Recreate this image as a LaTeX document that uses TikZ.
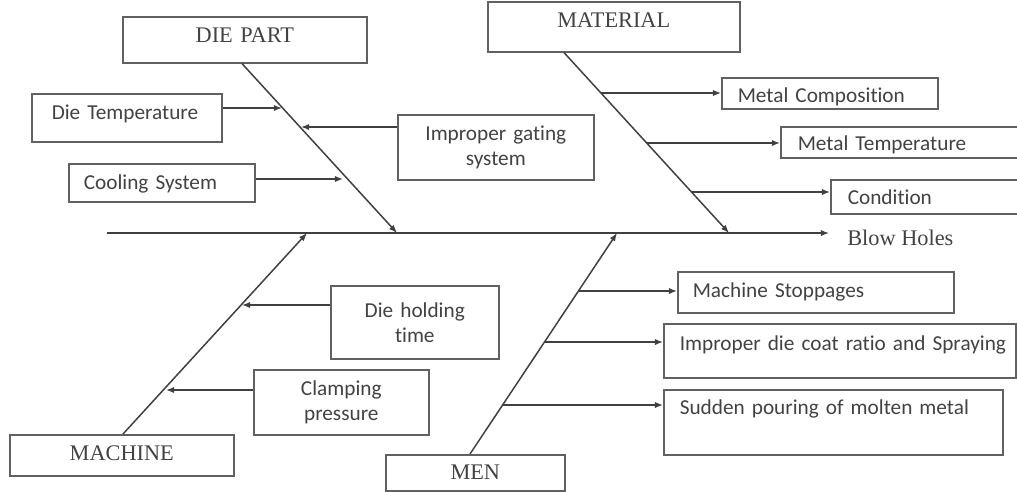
\documentclass[tikz,border=0pt]{standalone}
\usepackage{fontspec}
\setmainfont{Liberation Serif}
\newfontfamily\itemfont[Ligatures={NoCommon,NoRare,NoContextual}]{Carlito}
\usetikzlibrary{arrows.meta,calc}
\newdimen\pxu
\pxu=0.02cm
\definecolor{linec}{gray}{0.25}
\definecolor{boxc}{gray}{0.38}
\definecolor{txtc}{gray}{0.26}
\newcommand\titlefs{\fontsize{12.7pt}{14.2pt}\selectfont}
\newcommand\itemfs{\itemfont\fontsize{12.1pt}{14.2pt}\selectfont}
\newcommand\ind[1]{\hspace*{#1\pxu}}
\tikzset{
  bx/.style={draw=boxc, line width=0.9pt, anchor=north west, inner sep=0pt, text=txtc},
  one/.style n args={4}{text width=#1\pxu, text height=#2\pxu, text depth=#3\pxu, align=#4},
  two/.style 2 args={text width=#1\pxu, minimum height=#2\pxu, align=center},
  ttl/.style={font=\titlefs},
  itm/.style={font=\itemfs},
  ln/.style={draw=linec, line width=0.85pt},
  arr/.style={ln, -{Latex[length=4.6pt,width=3.6pt]}},
}
\begin{document}
\begin{tikzpicture}[x=0.02cm,y=-0.02cm]
\useasboundingbox (0,0) rectangle (1017,491);
\clip (0,0) rectangle (1017,491);
% category boxes
\node[bx,ttl,one={244}{26}{20}{center}] (diepart) at (122,16) {DIE PART};
\node[bx,ttl,one={252}{26}{24}{center}] (material) at (487,1) {MATERIAL};
\node[bx,ttl,one={224}{26}{15}{center}] (machine) at (9,434) {MACHINE};
\node[bx,ttl,one={179}{25}{11}{center}] (men) at (385,454) {MEN};
% cause boxes
\node[bx,itm,one={190}{26}{22}{left}] (dtemp) at (31,93) {\ind{20}Die Temperature};
\node[bx,itm,one={186}{26}{12}{left}] (cool) at (68,163) {\ind{15}Cooling System};
\node[bx,itm,two={196}{65}] (gating) at (397,114) {Improper gating\\system};
\node[bx,itm,one={216}{25}{6}{left}] (mcomp) at (721,77) {\ind{16}Metal Composition};
\node[bx,itm,one={250}{24}{7}{left}] (mtemp) at (780,126) {\ind{17}Metal Temperature};
\node[bx,itm,one={200}{25}{9}{left}] (cond) at (830,179) {\ind{17}Condition};
\node[bx,itm,two={168}{73}] (dhold) at (330,285) {Die holding\\time};
\node[bx,itm,two={175}{65}] (clamp) at (253,369) {Clamping\\pressure};
\node[bx,itm,one={276}{26}{15}{left}] (mstop) at (677,271) {\ind{15}Machine Stoppages};
\node[bx,itm,one={352}{27}{27}{left}] (coat) at (663,323) {\ind{16}Improper die coat ratio and Spraying};
\node[bx,itm,one={339}{25}{40}{left}] (sudden) at (663,389) {\ind{16}Sudden pouring of molten metal};
% effect
\node[anchor=base west, inner sep=0pt, ttl, text=txtc] (blow) at (847,245) {Blow Holes};
% spine and bones
\coordinate (tail) at (107,233);
\coordinate (jd) at (397,233);
\coordinate (jmat) at (729,233);
\coordinate (jmac) at (307,233);
\coordinate (jmen) at (617,233);
\draw[arr, shorten >=18\pxu] (tail) -- (tail -| blow.west);
\draw[arr] ($(diepart.south west)+(120,0)$) -- (jd);
\draw[arr] ($(material.south west)+(77,0)$) -- (jmat);
\draw[arr] ($(machine.north west)+(114,0)$) -- (jmac);
\draw[arr] ($(men.north west)+(85,0)$) -- (jmen);
% branch points
\coordinate (bd1) at (282,108);
\coordinate (bd2) at (301,127);
\coordinate (bd3) at (343,179);
\coordinate (bm1) at (601,93);
\coordinate (bm2) at (647,143);
\coordinate (bm3) at (692,192);
\coordinate (bc1) at (242,305);
\coordinate (bc2) at (166,390);
\coordinate (bn1) at (579,291);
\coordinate (bn2) at (545,342);
\coordinate (bn3) at (503,405);
% branches
\draw[arr] (dtemp.east |- bd1) -- (bd1);
\draw[arr] (gating.west |- bd2) -- (bd2);
\draw[arr] (cool.east |- bd3) -- (bd3);
\draw[arr] (bm1) -- (bm1 -| mcomp.west);
\draw[arr] (bm2) -- (bm2 -| mtemp.west);
\draw[arr] (bm3) -- (bm3 -| cond.west);
\draw[arr] (dhold.west |- bc1) -- (bc1);
\draw[arr] (clamp.west |- bc2) -- (bc2);
\draw[arr] (bn1) -- (bn1 -| mstop.west);
\draw[arr] (bn2) -- (bn2 -| coat.west);
\draw[arr] (bn3) -- (bn3 -| sudden.west);
\end{tikzpicture}
\end{document}
